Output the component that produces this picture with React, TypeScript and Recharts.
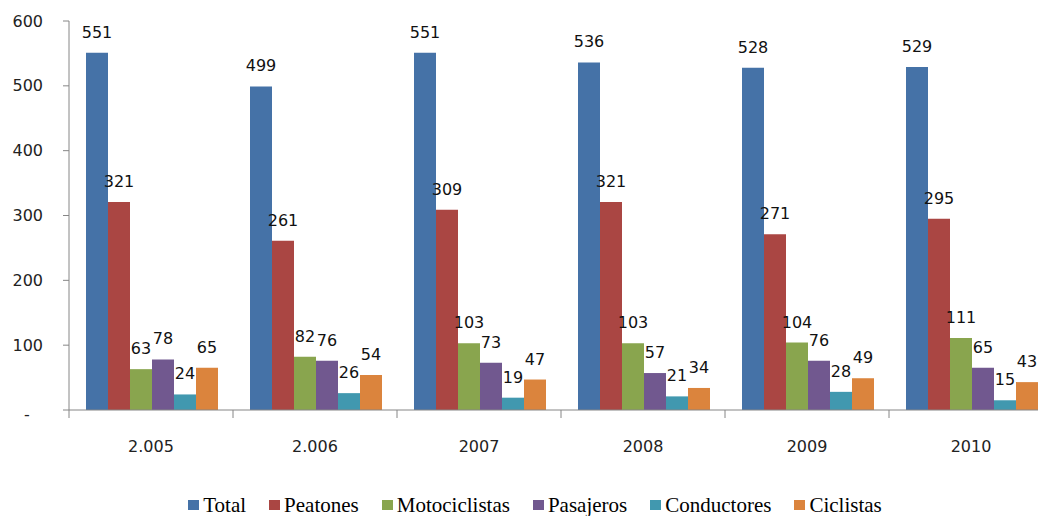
import { Bar, BarChart, LabelList, Legend, XAxis, YAxis } from "recharts";

// values
const years = ["2.005", "2.006", "2007", "2008", "2009", "2010"];
const total = [551, 499, 551, 536, 528, 529];
const peatones = [321, 261, 309, 321, 271, 295];
const motociclistas = [63, 82, 103, 103, 104, 111];
const pasajeros = [78, 76, 73, 57, 76, 65];
const conductores = [24, 26, 19, 21, 28, 15];
const ciclistas = [65, 54, 47, 34, 49, 43];
const yTicks = [0, 100, 200, 300, 400, 500, 600];

const SERIES = [
  { key: "Total", values: total, color: "#4572A7" },
  { key: "Peatones", values: peatones, color: "#AA4643" },
  { key: "Motociclistas", values: motociclistas, color: "#89A54E" },
  { key: "Pasajeros", values: pasajeros, color: "#71588F" },
  { key: "Conductores", values: conductores, color: "#4198AF" },
  { key: "Ciclistas", values: ciclistas, color: "#DB843D" },
];

const data = years.map((year, i) => {
  const row: Record<string, string | number> = { year };
  SERIES.forEach((s) => (row[s.key] = s.values[i]));
  return row;
});

const CHART_W = 1060;
const CHART_H = 516;
const MARGIN = { top: 21, right: 7, bottom: 0, left: 0 };
const Y_W = 69;
const PLOT_W = CHART_W - MARGIN.left - MARGIN.right - Y_W;
const BAND = PLOT_W / years.length;
const AXIS = "#868686";
const SANS = "'DejaVu Sans', Verdana, sans-serif";
const SERIF = "'Liberation Serif', 'Times New Roman', serif";

function YTick({ x, y, payload }: any) {
  const zero = payload.value === 0;
  return (
    <text
      x={zero ? x - 16 : x}
      y={zero ? y + 4 : y}
      textAnchor={zero ? "middle" : "end"}
      dominantBaseline="central"
      fontFamily={SANS}
      fontSize={16}
      fill="#222"
    >
      {zero ? "-" : payload.value}
    </text>
  );
}

function XTick({ x, y, payload }: any) {
  const left = x - BAND / 2;
  return (
    <g>
      <line x1={left} x2={left} y1={y - 2} y2={y + 6} stroke={AXIS} strokeWidth={1} />
      <text x={x} y={y + 34} textAnchor="middle" dominantBaseline="central" fontFamily={SANS} fontSize={16} fill="#222">
        {payload.value}
      </text>
    </g>
  );
}

// legend in series order, serif text like the original
function LegendContent() {
  return (
    <div
      style={{
        display: "flex",
        justifyContent: "center",
        alignItems: "center",
        fontFamily: SERIF,
        fontSize: 21,
        lineHeight: "22px",
        color: "#000",
      }}
    >
      {SERIES.map((s, i) => (
        <span
          key={s.key}
          style={{ display: "inline-flex", alignItems: "center", marginRight: i === SERIES.length - 1 ? 0 : 23 }}
        >
          <span style={{ width: 11, height: 10, background: s.color, marginRight: 4, display: "inline-block" }} />
          {s.key}
        </span>
      ))}
    </div>
  );
}

export default function App() {
  return (
    <div style={{ position: "absolute", left: 0, top: 0, width: 1038, height: 516, overflow: "hidden", background: "#fff" }}>
      <BarChart width={CHART_W} height={CHART_H} data={data} margin={MARGIN} barCategoryGap={17} barGap={0}>
        <XAxis
          dataKey="year"
          tick={<XTick />}
          tickLine={false}
          axisLine={{ stroke: AXIS }}
          height={84}
          tickSize={0}
          tickMargin={2}
          interval={0}
        />
        <YAxis
          domain={[0, 600]}
          ticks={yTicks}
          tick={<YTick />}
          tickLine={{ stroke: AXIS }}
          axisLine={{ stroke: AXIS }}
          tickSize={6}
          tickMargin={20}
          width={Y_W}
          interval={0}
        />
        <Legend
          verticalAlign="bottom"
          content={<LegendContent />}
          wrapperStyle={{ position: "absolute", top: 494, left: 10, width: 1050 }}
        />
        {SERIES.map((s) => (
          <Bar key={s.key} dataKey={s.key} fill={s.color} isAnimationActive={false}>
            <LabelList dataKey={s.key} position="top" offset={15} fontFamily={SANS} fontSize={16} fill="#111" />
          </Bar>
        ))}
      </BarChart>
    </div>
  );
}
